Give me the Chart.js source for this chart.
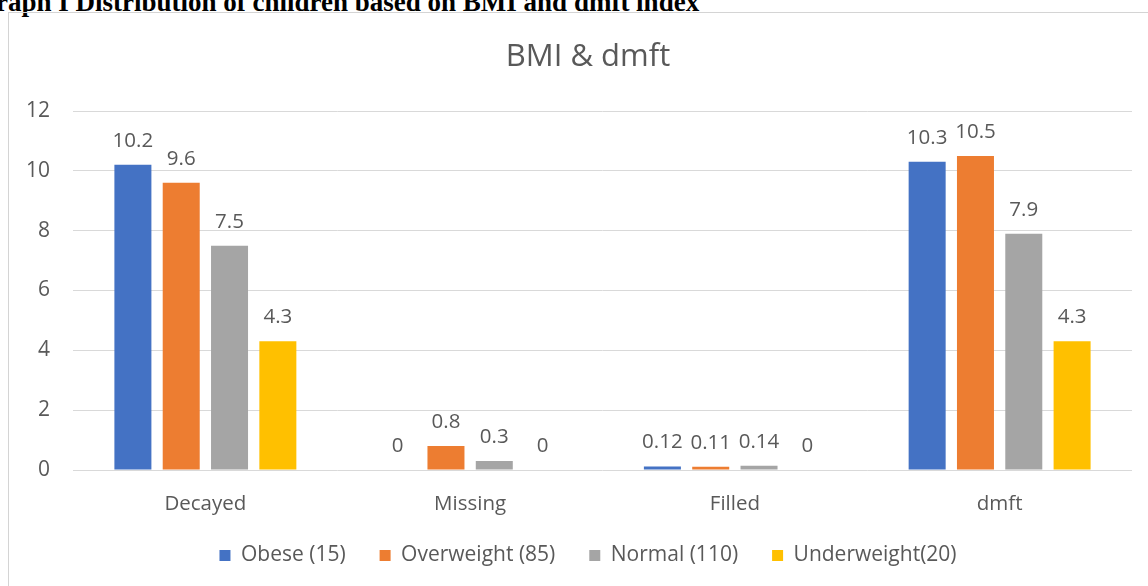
<!DOCTYPE html>
<html>
<head>
<meta charset="utf-8">
<script src="https://cdn.jsdelivr.net/npm/chart.js@4.4.1/dist/chart.umd.min.js"></script>
<style>
  html, body { margin: 0; padding: 0; background: #fff; overflow: hidden; }
  body { width: 1148px; height: 586px; position: relative; }
  #hdr { position: absolute; left: -25px; top: -11px; font-family: "Liberation Serif", "Times New Roman", serif; font-weight: bold; font-size: 27px; color: #000; white-space: nowrap; line-height: 27px; }
  #frame { position: absolute; left: 8px; top: 12px; width: 1300px; height: 700px; border: 1px solid #d4d4d4; box-sizing: border-box; }
  #wrap { position: absolute; left: 0; top: 0; width: 1148px; height: 586px; }
</style>
</head>
<body>
<div id="hdr">Graph I Distribution of children based on BMI and dmft index</div>
<div id="frame"></div>
<div id="wrap"><canvas id="c"></canvas></div>
<script>
const chartTitle = "BMI & dmft";
const categories = ["Decayed", "Missing", "Filled", "dmft"];
const seriesNames = ["Obese (15)", "Overweight (85)", "Normal (110)", "Underweight(20)"];
const obese = [10.2, 0, 0.12, 10.3];
const overweight = [9.6, 0.8, 0.11, 10.5];
const normal = [7.5, 0.3, 0.14, 7.9];
const underweight = [4.3, 0, 0, 4.3];
const yTicks = [0, 2, 4, 6, 8, 10, 12];
const colors = ["#4472C4", "#ED7D31", "#A5A5A5", "#FFC000"];

const FONT = "'Open Sans', sans-serif";
const TXT = "#595959";

const labelPlugin = {
  id: "barLabels",
  afterDatasetsDraw(chart) {
    const ctx = chart.ctx;
    ctx.save();
    ctx.font = "20.5px " + FONT;
    ctx.fillStyle = TXT;
    ctx.textAlign = "center";
    ctx.textBaseline = "alphabetic";
    chart.data.datasets.forEach((ds, i) => {
      const meta = chart.getDatasetMeta(i);
      meta.data.forEach((bar, j) => {
        ctx.fillText(String(ds.data[j]), bar.x, bar.y - 18);
      });
    });
    ctx.restore();
  }
};

const datasets = [obese, overweight, normal, underweight].map((d, i) => ({
  label: seriesNames[i],
  data: d,
  backgroundColor: colors[i],
  borderWidth: 0,
  categoryPercentage: 0.73,
  barPercentage: 0.766
}));

new Chart(document.getElementById("c"), {
  type: "bar",
  data: { labels: categories, datasets },
  plugins: [labelPlugin],
  options: {
    responsive: true,
    maintainAspectRatio: false,
    animation: false,
    layout: { padding: { left: 44, right: 16, top: 0, bottom: 10 } },
    plugins: {
      title: {
        display: true,
        text: chartTitle,
        color: TXT,
        font: { family: FONT, size: 31, weight: "normal", lineHeight: 1.2 },
        padding: { top: 38.4, bottom: 35.4 }
      },
      legend: {
        position: "bottom",
        labels: {
          color: TXT,
          font: { family: FONT, size: 21 },
          boxWidth: 11,
          boxHeight: 11,
          padding: 34
        }
      },
      tooltip: { enabled: false }
    },
    scales: {
      x: {
        grid: { display: false, drawTicks: false },
        border: { display: false },
        ticks: { color: TXT, font: { family: FONT, size: 20.5 }, padding: 21.9 },
        afterFit(s) { s.height = 41; s._computeLabelArea = () => undefined; }
      },
      y: {
        min: 0, max: 12,
        afterBuildTicks(s) { s.ticks = yTicks.map(v => ({ value: v })); },
        grid: { color: "#D9D9D9", lineWidth: 1, drawTicks: false },
        border: { display: false },
        ticks: { color: TXT, font: { family: FONT, size: 21 }, padding: 23 },
        afterFit(s) { s.width = 29; s._computeLabelArea = () => undefined; }
      }
    }
  }
});
</script>
</body>
</html>
